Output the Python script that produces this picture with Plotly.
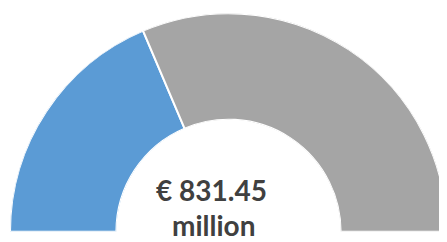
import plotly.graph_objects as go

# Data
segments = ["Allocated", "Remaining"]
shares = [37.2, 62.8]          # percent of the half-circle gauge
colors = ["#5B9BD5", "#A5A5A5"]
center_label = ["€ 831.45", "million"]

# Convert shares to angular positions (gauge spans 180° -> 0°)
total = sum(shares)
thetas, widths = [], []
start = 180.0
for s in shares:
    w = s / total * 180.0
    thetas.append(start - w / 2)
    widths.append(w)
    start -= w

fig = go.Figure()
fig.add_trace(go.Barpolar(
    r=[1] * len(shares),
    theta=thetas,
    width=widths,
    marker=dict(color=colors, line=dict(color="white", width=2)),
    hoverinfo="skip",
    showlegend=False,
))

W, H = 439, 234
ML, MR, MT, MB = 2, 0, 5, 10
PW, PH = W - ML - MR, H - MT - MB

def px_to_paper(x, y):
    return (x - ML) / PW, (H - MB - y) / PH

x1, y1 = px_to_paper(203.5, 182)
x2, y2 = px_to_paper(205, 217)

fig.update_layout(
    width=W, height=H,
    margin=dict(l=ML, r=MR, t=MT, b=MB),
    paper_bgcolor="white",
    plot_bgcolor="white",
    polar=dict(
        sector=[0, 180],
        hole=0.513,
        bgcolor="white",
        domain=dict(x=[0, 1], y=[0, 1]),
        radialaxis=dict(visible=False, range=[0, 1]),
        angularaxis=dict(visible=False, direction="counterclockwise", rotation=0),
    ),
    annotations=[
        dict(text="<b>" + center_label[0] + "</b>", x=x1, y=y1,
             xref="paper", yref="paper", xanchor="center", yanchor="middle",
             showarrow=False, borderpad=0,
             font=dict(family="Lato", size=28, color="#404040")),
        dict(text="<b>" + center_label[1] + "</b>", x=x2, y=y2,
             xref="paper", yref="paper", xanchor="center", yanchor="middle",
             showarrow=False, borderpad=0,
             font=dict(family="Lato", size=28, color="#404040")),
    ],
)

fig.write_html("out.html")
